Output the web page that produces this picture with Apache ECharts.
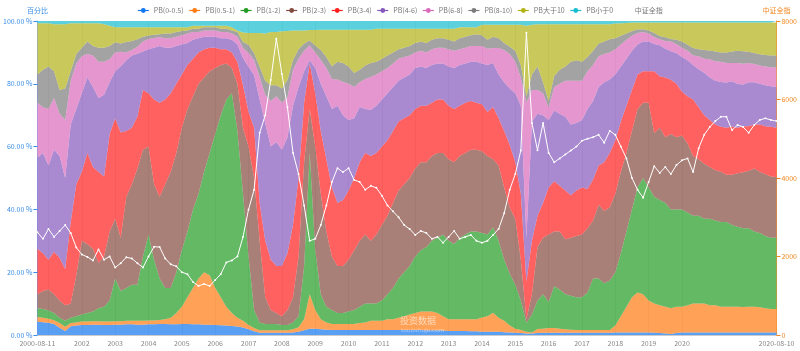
<!DOCTYPE html>
<html>
<head>
<meta charset="utf-8">
<script src="https://cdn.jsdelivr.net/npm/echarts/dist/echarts.min.js"></script>
<style>
  html, body { margin: 0; padding: 0; background: #fff; }
  #chart { width: 800px; height: 351px; }
</style>
</head>
<body>
<div id="chart"></div>
<script>
// dates: monthly points (every 2nd month), daily points at the end
const dates = [
  '2000-08-11', '2000-11',
  '2001-01', '2001-03', '2001-05', '2001-07', '2001-09', '2001-11',
  '2002-01', '2002-03', '2002-05', '2002-07', '2002-09', '2002-11',
  '2003-01', '2003-03', '2003-05', '2003-07', '2003-09', '2003-11',
  '2004-01', '2004-03', '2004-05', '2004-07', '2004-09', '2004-11',
  '2005-01', '2005-03', '2005-05', '2005-07', '2005-09', '2005-11',
  '2006-01', '2006-03', '2006-05', '2006-07', '2006-09', '2006-11',
  '2007-01', '2007-03', '2007-05', '2007-07', '2007-09', '2007-11',
  '2008-01', '2008-03', '2008-05', '2008-07', '2008-09', '2008-11',
  '2009-01', '2009-03', '2009-05', '2009-07', '2009-09', '2009-11',
  '2010-01', '2010-03', '2010-05', '2010-07', '2010-09', '2010-11',
  '2011-01', '2011-03', '2011-05', '2011-07', '2011-09', '2011-11',
  '2012-01', '2012-03', '2012-05', '2012-07', '2012-09', '2012-11',
  '2013-01', '2013-03', '2013-05', '2013-07', '2013-09', '2013-11',
  '2014-01', '2014-03', '2014-05', '2014-07', '2014-09', '2014-11',
  '2015-01', '2015-03', '2015-05', '2015-07', '2015-09', '2015-11',
  '2016-01', '2016-03', '2016-05', '2016-07', '2016-09', '2016-11',
  '2017-01', '2017-03', '2017-05', '2017-07', '2017-09', '2017-11',
  '2018-01', '2018-03', '2018-05', '2018-07', '2018-09', '2018-11',
  '2019-01', '2019-03', '2019-05', '2019-07', '2019-09', '2019-11',
  '2020-01', '2020-03', '2020-05',
  '2020-07-01', '2020-07-03', '2020-07-07', '2020-07-09', '2020-07-13',
  '2020-07-15', '2020-07-17', '2020-07-21', '2020-07-23', '2020-07-27',
  '2020-07-29', '2020-07-31', '2020-08-04', '2020-08-06', '2020-08-10'
];

// cumulative share (%) at the top of each PB band
const topPB0_05 = [
  4.2, 4.1, 3.9, 3.5, 2.3, 1.3, 2.8, 3.0, 3.2, 3.2,
  3.3, 3.3, 3.2, 3.2, 3.3, 3.3, 3.4, 3.4, 3.3, 3.3,
  3.4, 3.4, 3.5, 3.5, 3.4, 3.4, 3.5, 3.5, 3.4, 3.4,
  3.3, 3.3, 3.2, 3.1, 3.0, 2.9, 2.7, 2.4, 1.8, 1.2,
  0.7, 0.7, 0.7, 0.7, 0.7, 0.7, 0.8, 1.0, 1.5, 2.0,
  2.0, 1.8, 1.7, 1.6, 1.6, 1.6, 1.6, 1.6, 1.6, 1.6,
  1.6, 1.6, 1.6, 1.6, 1.6, 1.6, 1.6, 1.6, 1.6, 1.6,
  1.5, 1.5, 1.5, 1.4, 1.3, 1.3, 1.3, 1.3, 1.2, 1.2,
  1.0, 1.0, 1.0, 1.0, 0.9, 0.8, 0.7, 0.6, 0.5, 0.5,
  0.6, 0.7, 0.7, 0.7, 0.7, 0.7, 0.7, 0.7, 0.7, 0.7,
  0.7, 0.7, 0.7, 0.7, 0.8, 0.8, 0.8, 0.8, 0.8, 0.8,
  0.8, 0.7, 0.6, 0.5, 0.3, 0.6, 0.8, 0.8, 0.8, 0.8,
  0.8, 0.8, 0.8, 0.8, 0.8, 0.8, 0.8, 0.8, 0.8, 0.8,
  0.8, 0.8, 0.8, 0.8
];
const topPB05_1 = [
  5.7, 5.5, 5.2, 4.7, 3.8, 2.6, 3.8, 4.0, 4.3, 4.3,
  4.4, 4.4, 4.3, 4.3, 4.4, 4.4, 4.5, 4.5, 4.5, 4.5,
  4.6, 4.6, 4.8, 5.0, 5.5, 7.0, 9.0, 12, 15, 18,
  20, 19, 15, 12, 9, 7, 5.5, 4.5, 3.2, 2.2,
  1.5, 1.5, 1.5, 1.5, 1.5, 1.5, 1.8, 2.5, 5, 13,
  8, 5, 4, 3.5, 3.5, 3.5, 3.5, 3.5, 3.8, 4,
  4.5, 4.5, 4.5, 5, 5, 5.5, 6, 6.5, 7, 7.5,
  7.5, 7.5, 7, 6, 5, 5, 5, 5, 5, 5,
  5.6, 6, 7.1, 5.5, 4.5, 3, 2, 1.6, 1, 0.8,
  1.9, 2, 2.2, 2.2, 2, 1.8, 1.7, 1.6, 1.6, 1.6,
  1.6, 1.6, 1.6, 1.6, 3, 6, 9, 12, 13.5, 13,
  11, 10, 9.5, 9, 8.5, 9, 9, 9.5, 10, 10,
  10, 9.5, 9.5, 9, 9, 9, 9, 8.9, 9, 9,
  8.8, 8.5, 8.3, 8.3
];
const topPB1_2 = [
  8.5, 8.3, 7.8, 7, 5.5, 4.5, 5.5, 6, 6.5, 7,
  7.5, 8.5, 9, 11, 18, 14, 15, 16, 16, 25,
  32, 24, 18, 15, 15, 20, 27, 33, 40, 45,
  52, 58, 64, 70, 75, 77, 65, 45, 25, 8,
  4, 3.5, 3.5, 3.5, 3.2, 3.2, 4, 6, 22, 58,
  27, 13, 9, 8, 7, 7, 7.5, 8, 9, 10,
  10, 10, 11, 13, 15, 18, 20, 22, 25, 27,
  28, 30, 31, 32, 30, 29, 31, 32, 33, 33,
  32.5, 32, 34.3, 30, 24, 19.5, 16, 11, 3.8, 6.5,
  11, 13, 10.5, 15.5, 14.5, 13, 12.5, 12, 12, 13.5,
  18, 18, 16.5, 17.3, 20, 26, 33, 40, 47, 50,
  47, 44, 43, 42, 40, 40, 40, 39, 38, 38,
  37, 37, 36.5, 36, 36, 35, 34.5, 34, 34, 33,
  32.5, 31.5, 31, 31
];
const topPB2_3 = [
  13, 14, 14.5, 13, 11, 9.5, 10, 19, 30, 29,
  27.5, 23, 25, 33, 37, 31, 44, 48, 53, 59,
  60, 48, 44, 48, 52, 58, 66, 72, 76, 80,
  82, 84, 85, 86, 86.5, 85, 80, 66, 60, 50,
  30, 12, 8, 7, 6, 8, 12, 25, 55, 72,
  60, 45, 33, 25, 22, 22, 24, 27, 30, 32,
  30, 32, 35, 38, 42, 46, 48, 50, 53, 55,
  55, 57, 58, 58, 56, 55, 57, 58, 59, 59,
  58.5, 57, 56, 54, 47, 40.5, 37, 24, 5, 13,
  28, 31, 32, 33, 33, 30.5, 31, 31.5, 32, 34,
  36.5, 41.5, 39.5, 40.7, 45, 52, 58, 65, 72, 74,
  74, 64.3, 66, 63, 64, 63, 63.5, 61, 57, 56,
  54.5, 53.5, 52.5, 52, 51, 51, 51.5, 51.8, 52.3, 53,
  52, 51.2, 50.5, 50.3
];
const topPB3_4 = [
  27.5, 26, 24, 26.5, 24.5, 21, 36, 48, 52, 58,
  53.5, 52, 50.5, 64, 69, 64.5, 65, 66, 69.6, 78,
  77, 75, 74, 75, 77, 80, 83, 86, 88, 90,
  91, 91.5, 91.5, 91, 91, 90, 87, 79.5, 71, 66,
  42, 30, 24, 22, 22, 26, 35, 50, 74, 86.5,
  77, 65, 56, 47, 42, 43, 46, 50, 55, 58,
  57, 58, 60, 62, 65, 68, 69, 70, 72, 73,
  73, 74, 75, 75, 73, 72, 73, 74, 74.5, 74,
  73.5, 71, 72.6, 69, 65, 60.5, 55, 45, 17, 30,
  38, 42, 47, 49, 47.5, 46, 44.5, 46, 47, 46.5,
  49.5, 54, 55, 58, 62, 68, 73, 78, 83, 84,
  84, 84, 82.4, 82, 81.3, 80, 77.5, 76, 75, 72.5,
  70, 68.5, 67, 66.3, 66, 66.4, 66, 66.5, 66.5, 67,
  67, 66.5, 66.3, 66
];
const topPB4_6 = [
  56.5, 58, 54, 59, 57, 50, 67, 72, 77, 82,
  79, 75.5, 76.5, 80.5, 84, 85.6, 87.5, 89, 89.6, 90.3,
  91, 91.5, 92, 91.5, 91.5, 92, 92.5, 93, 94, 94.5,
  95, 95, 95, 94.5, 94.5, 94, 92.5, 88.2, 85.4, 82.8,
  75, 67.5, 60, 61.5, 59, 63, 73, 79, 84, 87.5,
  85, 80, 76, 72, 73, 70, 68.5, 69, 72.6, 72,
  71.7, 73, 75, 77, 79, 81, 82, 83, 85, 85.5,
  85, 86, 86.5, 86.5, 85.5, 85, 86, 86.5, 87, 87,
  86.5, 86, 86.6, 83, 80.5, 78.5, 77, 73, 31, 68,
  70.5, 70, 68.5, 71.5, 70.5, 69.5, 67, 67.5, 68.5, 72,
  74.5, 79, 80.5, 81.4, 83, 85.5, 88, 90.5, 92.5, 93.5,
  93.5, 92.7, 92.3, 91.2, 90.4, 89.8, 88.5, 87.5, 86, 84.6,
  83.5, 82, 81, 80.6, 80.4, 80.8, 79.9, 79.8, 80.5, 80.5,
  80, 79.5, 79.2, 79
];
const topPB6_8 = [
  74, 72.5, 72, 75.5, 70.5, 68.5, 81, 86.5, 88.8, 89.5,
  89, 87, 87, 87.8, 90, 90.2, 90, 90.8, 91.8, 93.5,
  94.3, 94.6, 94.9, 94.5, 94.5, 95, 95.5, 96, 96.5, 96.5,
  97, 97, 97, 96.5, 96.5, 96, 95, 91.4, 89.8, 87.6,
  82.2, 76.5, 74.5, 76, 74, 75.8, 84.4, 88, 90.5, 92.2,
  90, 87.6, 85, 81.5, 81.4, 80.6, 80, 79, 80.5, 81.5,
  82.2, 83, 84, 85, 86.5, 88, 88.5, 89, 90, 90.5,
  90, 91, 91.5, 91.5, 91, 90.5, 91, 91.5, 92, 92,
  92, 91.2, 91.4, 91.4, 90.8, 89.5, 87, 82, 74, 78,
  78, 77, 72.5, 79, 80, 81, 81, 81, 81, 84,
  86, 88.8, 89.5, 90, 91, 92.5, 94, 95.3, 96.2, 96.5,
  96, 94.9, 94.2, 93.6, 93.5, 92.6, 91.5, 90.5, 89, 88.8,
  88, 87.8, 87.2, 87, 86.6, 86.6, 86.6, 86.4, 86.6, 86.3,
  85.8, 85.5, 85.3, 85.2
];
const topPB8_10 = [
  83, 84.5, 85.5, 84, 78, 78.5, 84, 89.5, 91.5, 93.5,
  92, 91.5, 91.5, 92, 93.2, 92.8, 93.3, 93.6, 94.2, 95,
  95.4, 95.6, 95.8, 96, 96, 96.5, 96.8, 97, 97.5, 97.5,
  98, 98, 98, 97.5, 97.5, 97, 96.5, 93.3, 92.4, 89.8,
  85.4, 81, 79.5, 79.5, 78.5, 81.2, 87.6, 91, 92.8, 93.8,
  92.2, 90.8, 88.5, 85.6, 87, 86.6, 85.5, 83.4, 84.5, 85.8,
  86.6, 87, 88, 89, 90, 91, 91.5, 92, 93, 93.5,
  93, 94, 94.5, 94.5, 94, 93.5, 94.5, 95, 95.5, 95.8,
  95.5, 94, 95, 94.5, 93, 91.8, 90.5, 86, 76, 83,
  85.5, 80.5, 74.5, 82.5, 84.5, 85.5, 87, 87.5, 87, 88.5,
  90.5, 92.8, 93.5, 94.2, 94.5, 95.3, 96, 96.8, 97.3, 97.4,
  97, 96.2, 95.2, 94.8, 94.3, 94, 93.5, 92.4, 91.4, 91,
  90.8, 90.6, 90.3, 90, 90, 90.3, 90.5, 90.4, 90.2, 89.8,
  89.4, 89.2, 89, 89
];
const topPB10 = [
  99.3, 99.3, 99.3, 99, 99, 99, 99.3, 99.3, 99.3, 99.3,
  99.3, 99.3, 99, 98.5, 98, 98, 98, 98, 98, 98,
  98, 98, 98, 98, 98, 98, 98, 98, 98.5, 98.5,
  98.5, 98.5, 98.5, 98.5, 98.5, 98, 97, 96.3, 96.2, 96.2,
  96.2, 96, 96.5, 96.5, 96.7, 96.8, 97, 97, 97, 97.1,
  97.1, 97.2, 97.2, 97.2, 97.2, 97.2, 97.2, 97.2, 97.2, 97.2,
  97.2, 97.5, 97.5, 97.5, 97.5, 97.5, 97.5, 97.5, 97.5, 97.5,
  97.5, 97.5, 97.5, 97.5, 97.5, 97.5, 98, 98, 98, 98,
  98.8, 98.8, 98.8, 98.8, 98.8, 98.8, 98.8, 98.8, 98.5, 98.8,
  99, 99, 99, 99, 99, 99, 99, 99, 99, 99,
  99, 99, 99, 99, 99.2, 99.3, 99.4, 99.5, 99.5, 99.5,
  99.5, 99.5, 99.5, 99.5, 99.5, 99.5, 99.5, 99.5, 99.5, 99.5,
  99.5, 99.5, 99.5, 99.5, 99.5, 99.5, 99.5, 99.5, 99.5, 99.5,
  99.5, 99.5, 99.5, 99.5
];
// 中证全指, right axis
const csiAll = [
  2620, 2450, 2700, 2500, 2650, 2800, 2600, 2230, 2050, 1990,
  1900, 2180, 1920, 2000, 1720, 1830, 1980, 1950, 1830, 1720,
  2000, 2250, 2240, 1950, 1800, 1750, 1600, 1550, 1350, 1250,
  1300, 1250, 1400, 1550, 1850, 1900, 2000, 2500, 3200, 3700,
  5150, 5600, 6500, 7550, 6650, 5800, 4640, 4100, 3300, 2400,
  2450, 2800, 3300, 3900, 4250, 4150, 4250, 3950, 3900, 3700,
  3800, 3750, 3550, 3300, 3150, 3000, 2800, 2700, 2550, 2650,
  2600, 2450, 2500, 2350, 2500, 2650, 2450, 2500, 2550, 2400,
  2350, 2400, 2550, 2700, 3100, 3700, 4100, 4700, 7700, 5400,
  4710, 5400, 4640, 4400, 4500, 4600, 4700, 4800, 4950, 5000,
  5040, 5100, 4900, 5200, 5100, 4800, 4500, 4000, 3700, 3500,
  3900, 4300, 4130, 4280, 4100, 4330, 4450, 4500, 4150, 4760,
  5100, 5300, 5450, 5560, 5560, 5220, 5350, 5300, 5150, 5350,
  5480, 5520, 5480, 5450
];

const bandNames = ['PB(0-0.5)', 'PB(0.5-1)', 'PB(1-2)', 'PB(2-3)', 'PB(3-4)',
  'PB(4-6)', 'PB(6-8)', 'PB(8-10)', 'PB大于10', 'PB小于0'];
const bandColors = ['#1377f1', '#ff7a10', '#229b22', '#834a3e', '#ff1d1d',
  '#8459bd', '#da69ba', '#7c7c7c', '#b2b215', '#17becf'];
const bandTops = [topPB0_05, topPB05_1, topPB1_2, topPB2_3, topPB3_4,
  topPB4_6, topPB6_8, topPB8_10, topPB10];

function bandShare(k) {
  if (k === bandTops.length) return topPB10.map(v => +(100 - v).toFixed(2));
  return bandTops[k].map((v, i) => +(v - (k ? bandTops[k - 1][i] : 0)).toFixed(2));
}

const isYearStart = (i) => dates[i].length === 7 && dates[i].endsWith('-01');

const chart = echarts.init(document.getElementById('chart'));

const series = bandNames.map((name, k) => ({
  name: name,
  type: 'line',
  stack: 'pct',
  yAxisIndex: 0,
  symbol: 'circle',
  showSymbol: false,
  lineStyle: { width: 0 },
  areaStyle: { opacity: 0.7 },
  itemStyle: { color: bandColors[k] },
  emphasis: { disabled: true },
  data: bandShare(k)
}));

series.push({
  name: '中证全指',
  type: 'line',
  yAxisIndex: 1,
  symbol: 'circle',
  symbolSize: 2,
  showSymbol: true,
  showAllSymbol: true,
  lineStyle: { color: '#fff', width: 1 },
  itemStyle: { color: '#fff' },
  z: 10,
  data: csiAll
});

const option = {
  animation: false,
  textStyle: { fontFamily: '"Noto Sans CJK SC", "Noto Sans", sans-serif' },
  legend: {
    top: 2,
    left: 'center',
    itemWidth: 11,
    itemHeight: 6,
    itemGap: 5,
    textStyle: { fontSize: 7, color: '#777' },
    lineStyle: { width: 1.2 },
    data: bandNames.concat(['中证全指'])
  },
  grid: { left: 37, right: 23, top: 21, bottom: 16 },
  xAxis: {
    type: 'category',
    boundaryGap: false,
    data: dates,
    axisLine: { show: true, lineStyle: { color: '#ccc' } },
    axisTick: { show: false },
    axisLabel: {
      color: '#888',
      fontSize: 7,
      margin: 5,
      interval: (i) => i === 0 || i === dates.length - 1 || (i > 4 && isYearStart(i)),
      formatter: (v, i) => (i === 0 || i === dates.length - 1) ? v : v.slice(0, 4)
    },
    splitLine: {
      show: true,
      interval: (i) => isYearStart(i),
      lineStyle: { color: '#ececec', width: 1 }
    }
  },
  yAxis: [
    {
      type: 'value',
      min: 0,
      max: 100,
      interval: 20,
      name: '百分比',
      nameGap: 7,
      nameTextStyle: { color: '#3a8ee6', fontSize: 7 },
      axisLine: { show: true, lineStyle: { color: '#9db4ec' } },
      axisTick: { show: true, length: 4, lineStyle: { color: '#3a8ee6' } },
      axisLabel: { color: '#3a8ee6', fontSize: 7, margin: 5, formatter: v => v.toFixed(2) + ' %' },
      splitLine: { show: false }
    },
    {
      type: 'value',
      min: 0,
      max: 8000,
      interval: 2000,
      name: '中证全指',
      nameGap: 7,
      position: 'right',
      nameTextStyle: { color: '#f08a24', fontSize: 7 },
      axisLine: { show: true, lineStyle: { color: '#f7a24f' } },
      axisTick: { show: true, length: 4, lineStyle: { color: '#f08a24' } },
      axisLabel: { color: '#f08a24', fontSize: 7, margin: 5, formatter: v => String(v) },
      splitLine: { show: false }
    }
  ],
  graphic: [
    {
      type: 'text', left: 400, top: 316, z: 20,
      style: { text: '投资数据', fill: 'rgba(255,255,255,0.6)', font: '9px "Noto Sans CJK SC"' }
    },
    {
      type: 'text', left: 401, top: 327, z: 20,
      style: { text: 'touzishuju.com', fill: 'rgba(255,255,255,0.45)', font: '6px "Noto Sans"' }
    }
  ],
  series: series
};

chart.setOption(option);
</script>
</body>
</html>
